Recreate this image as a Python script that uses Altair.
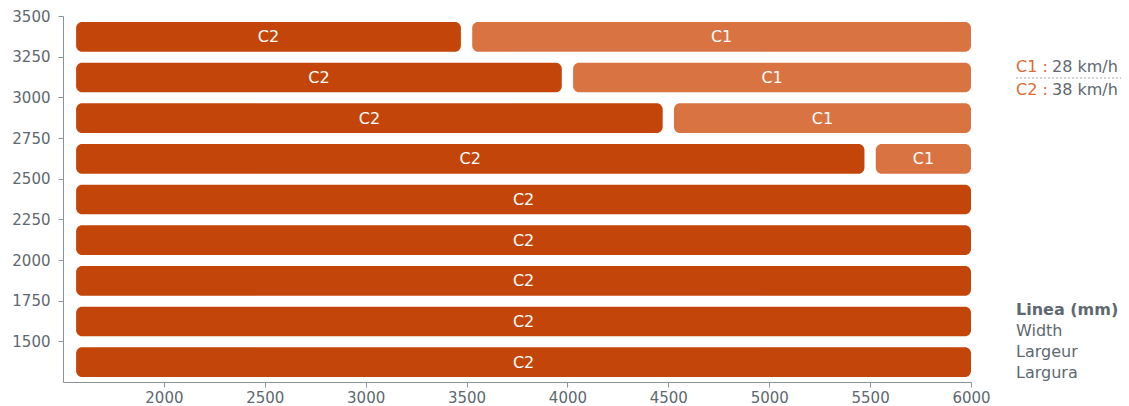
import altair as alt
import pandas as pd

# ---- data ----
widths = [3500, 3250, 3000, 2750, 2500, 2250, 2000, 1750, 1500]
c2_end = [3500, 4000, 4500, 5500, 6000, 6000, 6000, 6000, 6000]
x_min = 1500
x_max = 6000
y_ticks = [1500, 1750, 2000, 2250, 2500, 2750, 3000, 3250, 3500]
x_ticks = [2000, 2500, 3000, 3500, 4000, 4500, 5000, 5500, 6000]
legend_classes = ["C1 :", "C2 :"]
legend_speeds = ["28 km/h", "38 km/h"]
axis_title_lines = ["Linea (mm)", "Width", "Largeur", "Largura"]

rows = []
for w, e in zip(widths, c2_end):
    rows.append({"w": w, "lo": w - 250, "cls": "C2", "start": x_min, "end": e})
    if e < x_max:
        rows.append({"w": w, "lo": w - 250, "cls": "C1", "start": e, "end": x_max})
df = pd.DataFrame(rows)

DARK = "#C4450A"
LIGHT = "#D97342"
ORANGE = "#DD6A33"
GRAY = "#5E6870"
AXIS = "#8A9399"
FONT = "DejaVu Sans"

base = alt.Chart(df).transform_calculate(
    xs=f"datum.start == {x_min} ? datum.start + 65 : datum.start + 28",
    xe=f"datum.end == {x_max} ? datum.end : datum.end - 28",
).transform_calculate(xm="(datum.xs + datum.xe) / 2", ym="(datum.w + datum.lo) / 2")

xscale = alt.Scale(domain=[x_min, x_max], nice=False, zero=False)
yscale = alt.Scale(domain=[1250, 3500], nice=False, zero=False)

bars = base.mark_bar(cornerRadius=6, yOffset=6, y2Offset=-5).encode(
    x=alt.X("xs:Q", scale=xscale, axis=alt.Axis(values=x_ticks, title=None, grid=False, format="d",
                                               labelFont=FONT, labelFontSize=15, labelColor=GRAY,
                                               domainColor=AXIS, tickColor=AXIS, tickSize=5,
                                               labelPadding=3, labelFlush=False)),
    x2="xe:Q",
    y=alt.Y("w:Q", scale=yscale, axis=alt.Axis(values=y_ticks, title=None, grid=False, format="d",
                                              labelFont=FONT, labelFontSize=15, labelColor=GRAY,
                                              domainColor=AXIS, tickColor=AXIS, tickSize=5,
                                              labelPadding=8, labelFlush=False)),
    y2="lo:Q",
    color=alt.Color("cls:N", scale=alt.Scale(domain=["C1", "C2"], range=[LIGHT, DARK]), legend=None),
)

labels = base.mark_text(font=FONT, fontSize=16, color="white", baseline="middle", dy=1).encode(
    x="xm:Q", y="ym:Q", text="cls:N"
)

one = alt.Data(values=[{}])
lx = 953
legend_layers = []
for i, (c, s) in enumerate(zip(legend_classes, legend_speeds)):
    yy = 51 + i * 23
    legend_layers.append(alt.Chart(one).mark_text(font=FONT, fontSize=16, align="left", baseline="middle",
                                                  color=ORANGE).encode(
        x=alt.value(lx), y=alt.value(yy), text=alt.value(c)))
    legend_layers.append(alt.Chart(one).mark_text(font=FONT, fontSize=16, align="left", baseline="middle",
                                                  color=GRAY).encode(
        x=alt.value(lx + 36), y=alt.value(yy), text=alt.value(s)))
legend_layers.append(alt.Chart(one).mark_rule(color="#A0A8AD", strokeDash=[2, 2], strokeWidth=1).encode(
    x=alt.value(lx), x2=alt.value(lx + 106), y=alt.value(62)))
for i, t in enumerate(axis_title_lines):
    legend_layers.append(alt.Chart(one).mark_text(font=FONT, fontSize=16,
                                                  fontWeight="bold" if i == 0 else "normal",
                                                  align="left", baseline="middle", color=GRAY).encode(
        x=alt.value(lx), y=alt.value(294 + i * 21), text=alt.value(t)))

chart = alt.layer(bars, labels, *legend_layers).properties(
    width=908, height=366,
    background="white",
    autosize=alt.AutoSizeParams(type="none"),
    padding={"left": 55, "top": 8, "right": 150, "bottom": 24},
).configure_view(stroke=None)

chart.save("out.html", embed_options={"renderer": "svg", "actions": False})
